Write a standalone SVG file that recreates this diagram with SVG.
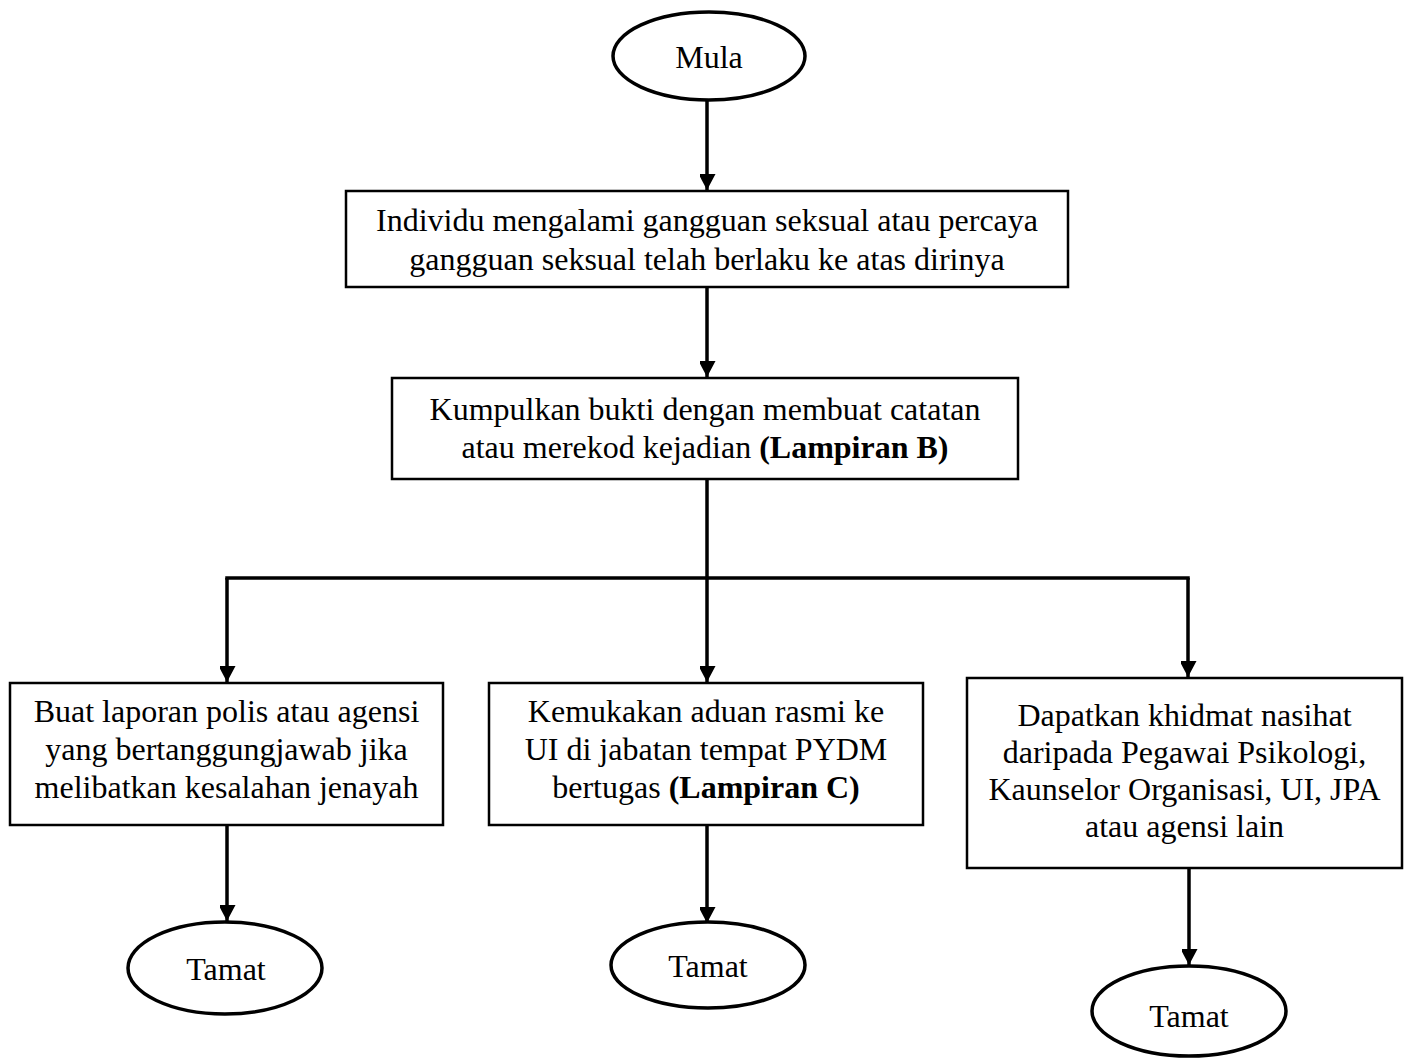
<svg xmlns="http://www.w3.org/2000/svg" width="1409" height="1059" viewBox="0 0 1409 1059">
<style>
  .box { fill: #fff; stroke: #000; stroke-width: 2.5; }
  .term { fill: #fff; stroke: #000; stroke-width: 3.5; }
  .txt { font-family: "Liberation Serif", "Times New Roman", serif; font-size: 32px; fill: #000; text-anchor: middle; }
  .b { font-weight: bold; }
  .ln { fill: none; stroke: #000; stroke-width: 3.5; }
</style>
<defs>
  <marker id="ah" markerUnits="userSpaceOnUse" markerWidth="18" markerHeight="16" refX="16" refY="8.5" orient="auto">
    <path d="M0,0 L16,8.5 L0,17 Z" fill="#000"/>
  </marker>
</defs>
<rect width="1409" height="1059" fill="#fff"/>

<g id="connectors">
  <line class="ln" x1="707" y1="100" x2="707" y2="190" marker-end="url(#ah)"/>
  <line class="ln" x1="707" y1="287" x2="707" y2="377" marker-end="url(#ah)"/>
  <line class="ln" x1="707" y1="480" x2="707" y2="578"/>
  <line class="ln" x1="227" y1="578" x2="1188" y2="578" stroke-linecap="square"/>
  <line class="ln" x1="227" y1="578" x2="227" y2="682" marker-end="url(#ah)"/>
  <line class="ln" x1="707" y1="578" x2="707" y2="682" marker-end="url(#ah)"/>
  <line class="ln" x1="1188" y1="578" x2="1188" y2="677" marker-end="url(#ah)"/>
  <line class="ln" x1="227" y1="826" x2="227" y2="921" marker-end="url(#ah)"/>
  <line class="ln" x1="707" y1="826" x2="707" y2="923" marker-end="url(#ah)"/>
  <line class="ln" x1="1189" y1="869" x2="1189" y2="965" marker-end="url(#ah)"/>
</g>

<g id="mula">
  <ellipse class="term" cx="709" cy="56" rx="96" ry="44"/>
  <text class="txt" x="709" y="68">Mula</text>
</g>

<g id="step1">
  <rect class="box" x="346" y="191" width="722" height="96"/>
  <text class="txt" x="707" y="231">Individu mengalami gangguan seksual atau percaya</text>
  <text class="txt" x="707" y="270">gangguan seksual telah berlaku ke atas dirinya</text>
</g>

<g id="step2">
  <rect class="box" x="392" y="378" width="626" height="101"/>
  <text class="txt" x="705" y="420">Kumpulkan bukti dengan membuat catatan</text>
  <text class="txt" x="705" y="458">atau merekod kejadian <tspan class="b">(Lampiran B)</tspan></text>
</g>

<g id="option1">
  <rect class="box" x="10" y="683" width="433" height="142"/>
  <text class="txt" x="226.5" y="722">Buat laporan polis atau agensi</text>
  <text class="txt" x="226.5" y="760">yang bertanggungjawab jika</text>
  <text class="txt" x="226.5" y="798">melibatkan kesalahan jenayah</text>
</g>

<g id="option2">
  <rect class="box" x="489" y="683" width="434" height="142"/>
  <text class="txt" x="706" y="722">Kemukakan aduan rasmi ke</text>
  <text class="txt" x="706" y="760">UI di jabatan tempat PYDM</text>
  <text class="txt" x="706" y="798">bertugas <tspan class="b">(Lampiran C)</tspan></text>
</g>

<g id="option3">
  <rect class="box" x="967" y="678" width="435" height="190"/>
  <text class="txt" x="1184.5" y="726">Dapatkan khidmat nasihat</text>
  <text class="txt" x="1184.5" y="763">daripada Pegawai Psikologi,</text>
  <text class="txt" x="1184.5" y="800">Kaunselor Organisasi, UI, JPA</text>
  <text class="txt" x="1184.5" y="837">atau agensi lain</text>
</g>

<g id="tamat1">
  <ellipse class="term" cx="225" cy="968" rx="97" ry="46"/>
  <text class="txt" x="226" y="980">Tamat</text>
</g>

<g id="tamat2">
  <ellipse class="term" cx="708" cy="965" rx="97" ry="43"/>
  <text class="txt" x="708" y="977">Tamat</text>
</g>

<g id="tamat3">
  <ellipse class="term" cx="1189" cy="1011" rx="97" ry="45"/>
  <text class="txt" x="1189" y="1027">Tamat</text>
</g>
</svg>
